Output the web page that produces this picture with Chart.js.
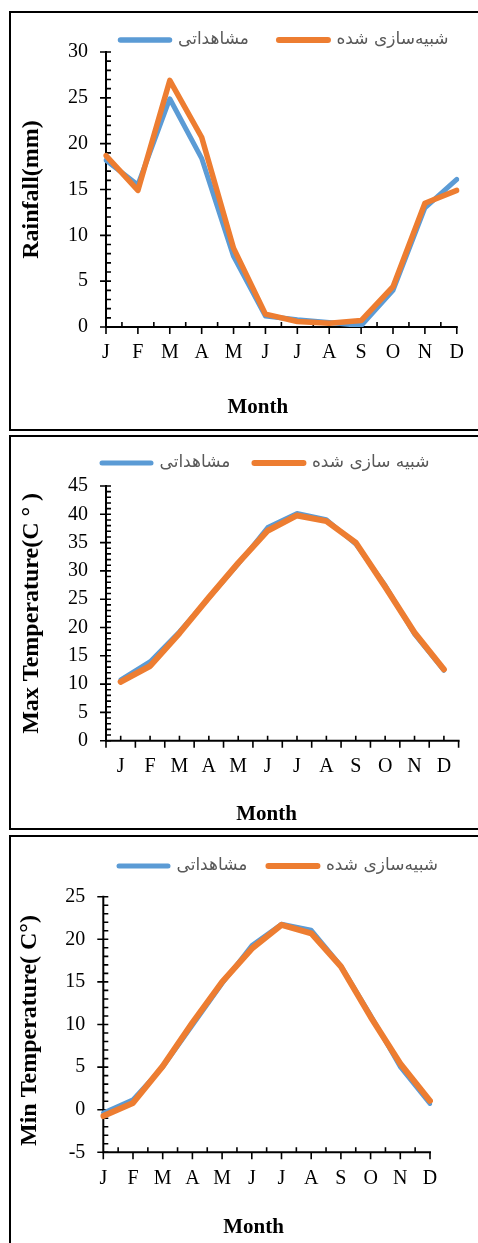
<!DOCTYPE html>
<html>
<head>
<meta charset="utf-8">
<script src="https://cdn.jsdelivr.net/npm/chart.js@4.4.1/dist/chart.umd.min.js"></script>
<style>
  body { margin: 0; background: #fff; width: 478px; height: 1243px; overflow: hidden; position: relative; }
  .panel { position: absolute; left: 9px; width: 490px; border: 2px solid #000; box-sizing: border-box; }
  .panel canvas { position: absolute; left: 0; top: 0; }
</style>
</head>
<body>
<div class="panel" style="top:11px;height:420px"><canvas id="rain" width="467" height="416"></canvas></div>
<div class="panel" style="top:435px;height:395px"><canvas id="maxT" width="467" height="391"></canvas></div>
<div class="panel" style="top:835px;height:420px"><canvas id="minT" width="467" height="406"></canvas></div>
<script>
// data
const months = ['J', 'F', 'M', 'A', 'M', 'J', 'J', 'A', 'S', 'O', 'N', 'D'];
const namesRain = ['مشاهداتی', 'شبیه‌سازی شده'];
const namesMax = ['مشاهداتی', 'شبیه سازی شده'];
const namesMin = ['مشاهداتی', 'شبیه‌سازی شده'];

const rainObserved = [18.2, 15.5, 24.9, 18.4, 7.7, 1.2, 0.8, 0.5, 0.15, 4.0, 13.0, 16.1];
const rainSimulated = [18.7, 14.9, 26.9, 20.7, 8.6, 1.4, 0.6, 0.4, 0.7, 4.4, 13.5, 14.9];
const maxTObserved = [10.8, 14.0, 19.3, 25.2, 31.2, 37.7, 40.2, 39.1, 34.7, 27.5, 18.8, 12.4];
const maxTSimulated = [10.4, 13.2, 19.0, 25.3, 31.4, 37.1, 39.8, 38.8, 35.0, 27.2, 19.1, 12.6];
const minTObserved = [-0.35, 1.2, 5.0, 9.9, 14.8, 19.3, 21.8, 21.1, 16.9, 11.1, 5.0, 0.7];
const minTSimulated = [-0.75, 0.8, 5.1, 10.2, 15.0, 18.9, 21.7, 20.7, 16.8, 10.9, 5.4, 1.05];

const rainTicks = [0, 5, 10, 15, 20, 25, 30];
const maxTTicks = [0, 5, 10, 15, 20, 25, 30, 35, 40, 45];
const minTTicks = [-5, 0, 5, 10, 15, 20, 25];

const BLUE = '#5B9BD5';
const ORANGE = '#ED7D31';
const SERIF = "'Liberation Serif', 'Times New Roman', serif";

// axis lines plus major / minor tick marks, Excel style
const axisTicks = {
  id: 'axisTicks',
  beforeDatasetsDraw(chart, args, o) {
    const {ctx, chartArea: a, scales: {x, y}} = chart;
    ctx.save();
    ctx.strokeStyle = '#000';
    ctx.lineWidth = 2;
    ctx.beginPath();
    ctx.moveTo(a.left, a.top - 1);
    ctx.lineTo(a.left, a.bottom);
    ctx.lineTo(a.right + 1, a.bottom);
    ctx.stroke();

    ctx.lineWidth = 1.6;
    ctx.beginPath();
    const t = y.ticks.map(k => k.value);
    const step = t[1] - t[0];
    for (let i = 0; i < t.length; i++) {
      const py = y.getPixelForValue(t[i]);
      ctx.moveTo(a.left - 6, py); ctx.lineTo(a.left + 5, py);
      if (i < t.length - 1) {
        for (let m = 1; m < o.minorCount + 1; m++) {
          const my = y.getPixelForValue(t[i] + step * m / (o.minorCount + 1));
          ctx.moveTo(a.left, my); ctx.lineTo(a.left + 5, my);
        }
      }
    }
    const n = chart.data.labels.length;
    const half = (x.getPixelForValue(1) - x.getPixelForValue(0)) / 2;
    for (let i = 0; i < n; i++) {
      const px = x.getPixelForValue(i);
      const down = o.offset ? px - half : px;
      const up = o.offset ? px : px + half;
      ctx.moveTo(down, a.bottom); ctx.lineTo(down, a.bottom + 7);
      if (o.offset || i < n - 1) { ctx.moveTo(up, a.bottom); ctx.lineTo(up, a.bottom - 5); }
    }
    if (o.offset) {
      const last = x.getPixelForValue(n - 1) + half;
      ctx.moveTo(last, a.bottom); ctx.lineTo(last, a.bottom + 7);
    }
    ctx.stroke();
    ctx.restore();
  }
};

// moves the legend row to where the reference has it
const legendPlace = {
  id: 'legendPlace',
  afterLayout(chart, args, o) {
    const lg = chart.legend;
    const p = lg.options.labels.padding;
    const fs = lg.options.labels.font.size;
    const start = ((lg.left + p) + (lg.right - lg.lineWidths[0])) / 2;
    const dx = o.x0 - start;
    lg.left += dx; lg.right += dx;
    lg.top = o.cy - p - fs / 2;
    lg.bottom = o.cy + fs;
    lg.height = lg.bottom - lg.top;
  }
};

function makeChart(id, o) {
  const cv = document.getElementById(id);
  const W = cv.width, H = cv.height;
  const legendH = 20;
  return new Chart(cv, {
    type: 'line',
    data: {
      labels: months,
      datasets: [
        // orange sits on top of blue in the reference, hence the order values
        {label: o.names[0], data: o.obs, borderColor: BLUE, backgroundColor: BLUE, borderWidth: o.blueW, legendW: o.blueLegendW, order: 2},
        {label: o.names[1], data: o.sim, borderColor: ORANGE, backgroundColor: ORANGE, borderWidth: o.orangeW, legendW: 6, order: 1}
      ]
    },
    options: {
      responsive: false,
      animation: false,
      events: [],
      layout: {padding: {top: o.area.top - legendH, left: 0, right: W - o.area.right, bottom: 0}},
      elements: {
        point: {radius: 0},
        line: {tension: 0, borderCapStyle: 'round', borderJoinStyle: 'round', fill: false}
      },
      plugins: {
        legend: {
          position: 'top',
          maxHeight: legendH,
          labels: {
            usePointStyle: true,
            pointStyle: 'line',
            pointStyleWidth: 49,
            padding: o.legendGap,
            color: '#595959',
            font: {family: "'DejaVu Sans'", size: 17},
            generateLabels: chart => chart.data.datasets.map((d, i) => ({
              text: d.label,
              strokeStyle: d.borderColor,
              fillStyle: d.borderColor,
              lineWidth: d.legendW,
              lineCap: 'round',
              pointStyle: 'line',
              fontColor: '#595959',
              hidden: false,
              datasetIndex: i
            }))
          }
        },
        tooltip: {enabled: false},
        axisTicks: {minorCount: 4, offset: o.offset},
        legendPlace: {x0: o.legendX, cy: o.legendY}
      },
      scales: {
        x: {
          offset: o.offset,
          grid: {display: false, drawTicks: false},
          border: {display: false},
          ticks: {color: '#000', font: {family: SERIF, size: 20}, padding: 14, autoSkip: false, maxRotation: 0},
          title: {
            display: true,
            text: 'Month' + ' '.repeat(o.monthPad),
            color: '#000',
            font: {family: SERIF, size: 21, weight: 'bold'},
            padding: {top: 0, bottom: o.monthBottom}
          },
          afterFit: s => { s.height = H - o.area.bottom; }
        },
        y: {
          min: o.ticks[0],
          max: o.ticks[o.ticks.length - 1],
          grid: {display: false, drawTicks: false},
          border: {display: false},
          ticks: {color: '#000', font: {family: SERIF, size: 20}, padding: 18, stepSize: o.ticks[1] - o.ticks[0]},
          afterBuildTicks: s => { s.ticks = o.ticks.map(v => ({value: v})); },
          title: {
            display: true,
            text: o.yTitle,
            color: '#000',
            font: {family: SERIF, size: 24, weight: 'bold'},
            padding: {top: o.yTitlePad, bottom: 0}
          },
          afterFit: s => { s.width = o.area.left; }
        }
      }
    },
    plugins: [axisTicks, legendPlace]
  });
}

makeChart('rain', {
  names: namesRain, obs: rainObserved, sim: rainSimulated, ticks: rainTicks,
  blueW: 5, orangeW: 5.5, blueLegendW: 5.5, offset: false,
  area: {left: 95, right: 452, top: 39, bottom: 314},
  legendX: 109.5, legendY: 27, legendGap: 30,
  yTitle: 'Rainfall(mm)', yTitlePad: 6.5, monthPad: 9, monthBottom: 9
});

makeChart('maxT', {
  names: namesMax, obs: maxTObserved, sim: maxTSimulated, ticks: maxTTicks,
  blueW: 4.5, orangeW: 6, blueLegendW: 5, offset: true,
  area: {left: 95, right: 447.6, top: 49, bottom: 303.7},
  legendX: 91, legendY: 26, legendGap: 24,
  yTitle: 'Max Temperature(C ° )', yTitlePad: 6.5, monthPad: 6, monthBottom: 0.5
});

makeChart('minT', {
  names: namesMin, obs: minTObserved, sim: minTSimulated, ticks: minTTicks,
  blueW: 4.5, orangeW: 6, blueLegendW: 5, offset: false,
  area: {left: 92.3, right: 419, top: 59.7, bottom: 315.3},
  legendX: 108, legendY: 29, legendGap: 21,
  yTitle: 'Min Temperature( C°)  ', yTitlePad: 4.5, monthPad: 5, monthBottom: 2.5
});
</script>
</body>
</html>
